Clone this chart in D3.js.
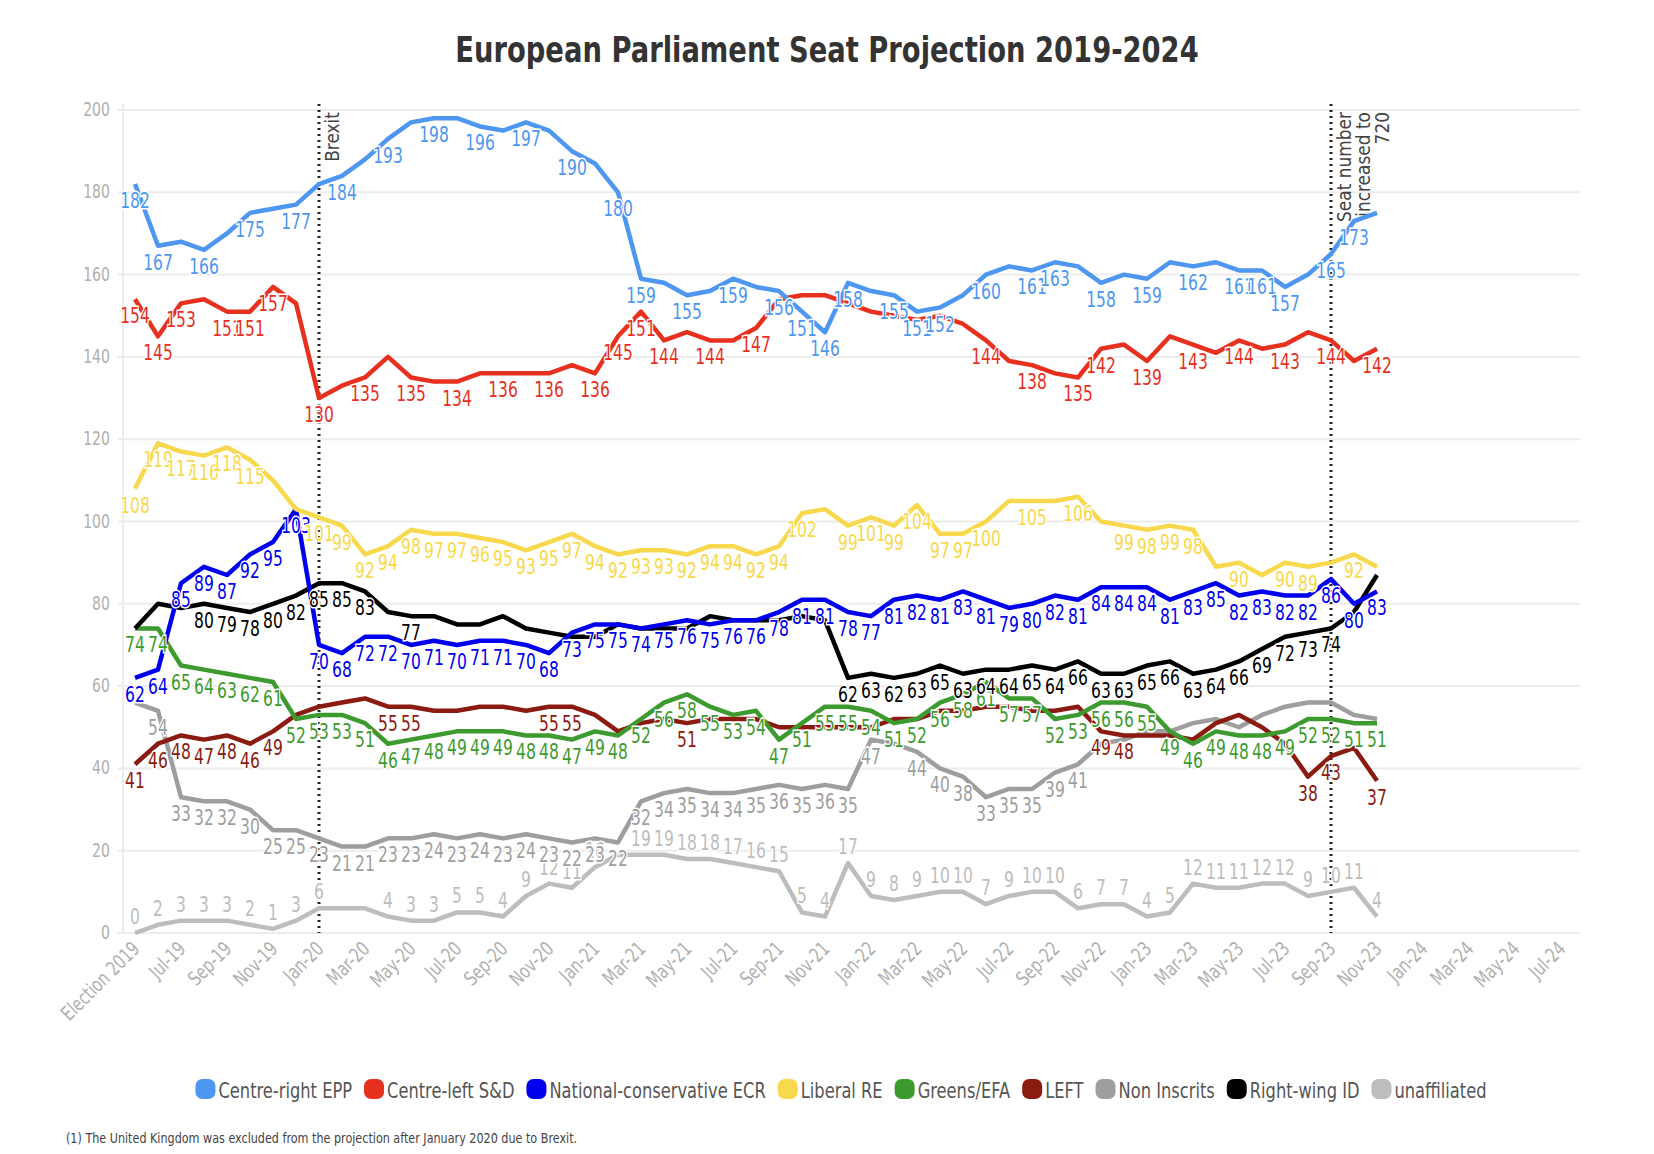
<!DOCTYPE html>
<html>
<head>
<meta charset="utf-8">
<script src="https://cdn.jsdelivr.net/npm/d3@7"></script>
<style>
  body { margin: 0; background: #fff; }
  text { font-family: "DejaVu Sans", "Roboto", sans-serif; }
</style>
</head>
<body>
<div id="chart"></div>
<script>
// months: index 0 = Election 2019 (May-19) ... index 54 = Nov-23
const tickLabels = ["Election 2019","Jul-19","Sep-19","Nov-19","Jan-20","Mar-20","May-20","Jul-20","Sep-20","Nov-20","Jan-21","Mar-21","May-21","Jul-21","Sep-21","Nov-21","Jan-22","Mar-22","May-22","Jul-22","Sep-22","Nov-22","Jan-23","Mar-23","May-23","Jul-23","Sep-23","Nov-23","Jan-24","Mar-24","May-24","Jul-24"];

const epp = [182,167,168,166,170,175,176,177,182,184,188,193,197,198,198,196,195,197,195,190,187,180,159,158,155,156,159,157,156,151,146,158,156,155,151,152,155,160,162,161,163,162,158,160,159,163,162,163,161,161,157,160,165,173,175];
const snd = [154,145,153,154,151,151,157,153,130,133,135,140,135,134,134,136,136,136,136,138,136,145,151,144,146,144,144,147,154,155,155,153,151,150,149,150,148,144,139,138,136,135,142,143,139,145,143,141,144,142,143,146,144,139,142];
const ecr = [62,64,85,89,87,92,95,103,70,68,72,72,70,71,70,71,71,70,68,73,75,75,74,75,76,75,76,76,78,81,81,78,77,81,82,81,83,81,79,80,82,81,84,84,84,81,83,85,82,83,82,82,86,80,83];
const re = [108,119,117,116,118,115,110,103,101,99,92,94,98,97,97,96,95,93,95,97,94,92,93,93,92,94,94,92,94,102,103,99,101,99,104,97,97,100,105,105,105,106,100,99,98,99,98,89,90,87,90,89,90,92,89];
const greens = [74,74,65,64,63,62,61,52,53,53,51,46,47,48,49,49,49,48,48,47,49,48,52,56,58,55,53,54,47,51,55,55,54,51,52,56,58,61,57,57,52,53,56,56,55,49,46,49,48,48,49,52,52,51,51];
const left = [41,46,48,47,48,46,49,53,55,56,57,55,55,54,54,55,55,54,55,55,53,49,51,52,51,52,52,52,50,50,50,50,50,52,52,54,54,55,55,54,54,55,49,48,48,48,47,51,53,50,46,38,43,45,37];
const ni = [56,54,33,32,32,30,25,25,23,21,21,23,23,24,23,24,23,24,23,22,23,22,32,34,35,34,34,35,36,35,36,35,47,46,44,40,38,33,35,35,39,41,46,47,49,49,51,52,50,53,55,56,56,53,52];
const id = [74,80,79,80,79,78,80,82,85,85,83,78,77,77,75,75,77,74,73,72,72,75,74,74,74,77,76,76,76,77,76,62,63,62,63,65,63,64,64,65,64,66,63,63,65,66,63,64,66,69,72,73,74,78,87];
const unaff = [0,2,3,3,3,2,1,3,6,6,6,4,3,3,5,5,4,9,12,11,16,19,19,19,18,18,17,16,15,5,4,17,9,8,9,10,10,7,9,10,10,6,7,7,4,5,12,11,11,12,12,9,10,11,4];

const range = (a, b) => d3.range(a, b + 1);
const series = [
  { name: "unaffiliated", values: unaff, color: "#bdbdbd", labels: [...range(0, 8), ...range(11, 20), ...range(22, 54)], dy: -9 },
  { name: "Non Inscrits", values: ni, color: "#9e9e9e", labels: [...range(1, 21), ...range(22, 32), 34, ...range(35, 41)], dy: 24 },
  { name: "LEFT", values: left, color: "#8b1a10", labels: [...range(0, 6), 11, 12, 18, 19, 24, 42, 43, 51, 52, 54], dy: 24 },
  { name: "Greens/EFA", values: greens, color: "#3d9a2f", labels: range(0, 54), dy: 24 },
  { name: "Right-wing ID", values: id, color: "#000000", labels: [...range(3, 10), 12, ...range(31, 52)], dy: 24 },
  { name: "National-conservative ECR", values: ecr, color: "#0000ee", labels: range(0, 54), dy: 24 },
  { name: "Liberal RE", values: re, color: "#f8d84c", labels: [...range(0, 5), ...range(8, 29), ...range(31, 37), 39, 41, 43, 44, 45, 46, 48, 50, 51, 53], dy: 24 },
  { name: "Centre-left S&D", values: snd, color: "#e8301f", labels: [0,1,2,4,5,6,8,10,12,14,16,18,20,21,22,23,25,27,37,39,41,42,44,46,48,50,52,54], dy: 24 },
  { name: "Centre-right EPP", values: epp, color: "#4d97f0", labels: [0,1,3,5,7,9,11,13,15,17,19,21,22,24,26,28,29,30,31,33,34,35,37,39,40,42,44,46,48,49,50,52,53], dy: 24 }
];
const legendOrder = ["Centre-right EPP","Centre-left S&D","National-conservative ECR","Liberal RE","Greens/EFA","LEFT","Non Inscrits","Right-wing ID","unaffiliated"];

const W = 1654, H = 1154;
const SX = 0.74; // horizontal squeeze to imitate the narrow font
const svg = d3.select("#chart").append("svg").attr("width", W).attr("height", H);

const x = d3.scaleLinear().domain([0, 62]).range([135, 1561]);
const y = d3.scaleLinear().domain([0, 200]).range([933, 110]);

// grid
svg.append("g").selectAll("line").data(d3.range(0, 201, 20)).enter().append("line")
  .attr("x1", 118).attr("x2", 1580)
  .attr("y1", d => y(d)).attr("y2", d => y(d))
  .attr("stroke", "#ececec").attr("stroke-width", 2);
svg.append("line").attr("x1", 123).attr("x2", 123).attr("y1", 104).attr("y2", 933)
  .attr("stroke", "#ececec").attr("stroke-width", 2);

// y ticks
svg.append("g").selectAll("text").data(d3.range(0, 201, 20)).enter().append("text")
  .attr("transform", d => `translate(110,${y(d) + 6}) scale(${SX},1)`).attr("text-anchor", "end")
  .attr("fill", "#b0b0b0").style("font-size", "19px").text(d => d);

// x ticks
svg.append("g").selectAll("text").data(tickLabels).enter().append("text")
  .attr("transform", (d, i) => `translate(${x(i * 2) + 6},${950}) rotate(-45) scale(${SX},1)`)
  .attr("text-anchor", "end").attr("fill", "#b0b0b0").style("font-size", "20px").text(d => d);

// reference lines
[[8, ["Brexit"]], [52, ["Seat number", "increased to", "720"]]].forEach(([i, lines]) => {
  svg.append("line").attr("x1", x(i)).attr("x2", x(i)).attr("y1", 104).attr("y2", 933)
    .attr("stroke", "#222").attr("stroke-width", 3).attr("stroke-dasharray", "2,4");
  const t = svg.append("text")
    .attr("transform", `translate(${x(i) + 20},112) rotate(-90) scale(0.85,1)`)
    .attr("text-anchor", "end").attr("fill", "#444").style("font-size", "20px");
  lines.forEach((l, k) => t.append("tspan").attr("x", 0).attr("dy", k === 0 ? 0 : 19).text(l));
});

const line = d3.line().x((d, i) => x(i)).y(d => y(d));
svg.append("g").selectAll("path").data(series).enter().append("path")
  .attr("d", d => line(d.values)).attr("fill", "none")
  .attr("stroke", d => d.color).attr("stroke-width", 4.5).attr("stroke-linejoin", "round");

// value labels
series.forEach(s => {
  svg.append("g").selectAll("text").data(s.labels).enter().append("text")
    .attr("transform", i => `translate(${x(i)},${y(s.values[i]) + s.dy}) scale(${SX},1)`)
    .attr("text-anchor", "middle").attr("fill", s.color)
    .attr("stroke", "#fff").attr("stroke-width", 3).attr("paint-order", "stroke")
    .style("font-size", "21px").text(i => s.values[i]);
});

// title
svg.append("text").attr("transform", `translate(${W / 2},62) scale(0.76,1)`).attr("text-anchor", "middle")
  .attr("fill", "#333").style("font-size", "36px").style("font-weight", "bold")
  .text("European Parliament Seat Projection 2019-2024");

// legend
const lg = svg.append("g");
let lx = 0;
legendOrder.forEach(n => {
  const s = series.find(d => d.name === n);
  const g = lg.append("g").attr("transform", `translate(${lx},0)`);
  g.append("rect").attr("x", 0).attr("y", -11).attr("width", 20).attr("height", 20).attr("rx", 7).attr("fill", s.color);
  const t = g.append("text").attr("transform", `translate(23,8) scale(${SX},1)`)
    .attr("fill", "#555").style("font-size", "22px").text(n);
  lx += 23 + t.node().getComputedTextLength() * SX + 12;
});
lg.attr("transform", `translate(${(W - lx) / 2 + 20},1090)`);

svg.append("text").attr("transform", `translate(66,1143) scale(0.8,1)`).attr("fill", "#444").style("font-size", "14px")
  .text("(1) The United Kingdom was excluded from the projection after January 2020 due to Brexit.");
</script>
</body>
</html>
